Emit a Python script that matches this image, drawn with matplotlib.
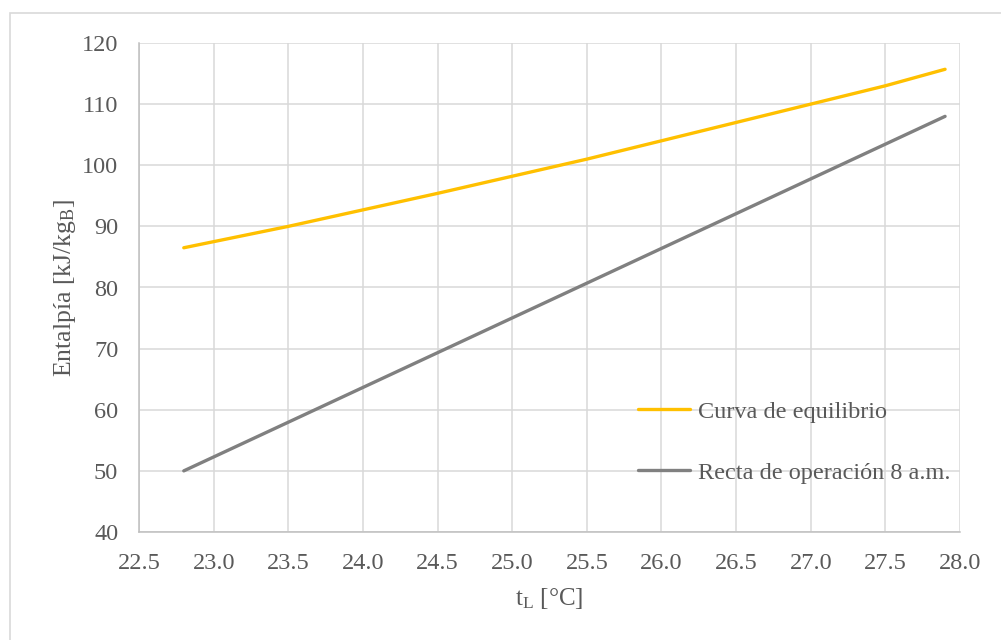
import matplotlib
matplotlib.use("Agg")
import matplotlib.pyplot as plt
from matplotlib.patches import Rectangle

# Curva de equilibrio
t_eq = [22.8, 23.0, 23.5, 24.0, 24.5, 25.0, 25.5, 26.0, 26.5, 27.0, 27.5, 27.9]
h_eq = [86.5, 87.5, 90.0, 92.7, 95.4, 98.2, 101.0, 104.0, 107.0, 110.0, 113.0, 115.7]

# Recta de operación 8 a.m.
t_op = [22.8, 27.9]
h_op = [50.0, 108.0]

x_ticks = [22.5, 23.0, 23.5, 24.0, 24.5, 25.0, 25.5, 26.0, 26.5, 27.0, 27.5, 28.0]
y_ticks = [40, 50, 60, 70, 80, 90, 100, 110, 120]

plt.rcParams["font.family"] = ["Liberation Serif", "DejaVu Serif"]
plt.rcParams["mathtext.fontset"] = "custom"
plt.rcParams["mathtext.rm"] = "Liberation Serif"
plt.rcParams["mathtext.it"] = "Liberation Serif"

text_color = "#595959"
grid_color = "#d9d9d9"

fig = plt.figure(figsize=(10.01, 6.4), dpi=100)
W, H = 1001, 640
ax = fig.add_axes([139 / W, 1 - 532 / H, (960 - 139) / W, (532 - 43) / H])

# outer chart border (only left/top visible in the reference)
fig.patches.append(Rectangle((10 / W, -0.05), 1.1, 1 - 13 / H + 0.05,
                             transform=fig.transFigure, fill=False,
                             edgecolor=grid_color, linewidth=1.2))

ax.plot(t_eq, h_eq, color="#FFC000", lw=2.4, label="Curva de equilibrio",
        solid_capstyle="round")
ax.plot(t_op, h_op, color="#808080", lw=2.4, label="Recta de operación 8 a.m.",
        solid_capstyle="round")

ax.set_xlim(22.5, 28.0)
ax.set_ylim(40, 120)
ax.set_xticks(x_ticks)
ax.set_xticklabels([f"{v:.1f}" for v in x_ticks])
ax.set_yticks(y_ticks)
ax.grid(True, color=grid_color, lw=1.1)
ax.set_axisbelow(True)
for side in ["top", "right"]:
    ax.spines[side].set_visible(False)
for side in ["left", "bottom"]:
    ax.spines[side].set_color("#bfbfbf")
    ax.spines[side].set_linewidth(1.1)
ax.tick_params(length=0, labelsize=17.5, colors=text_color)
ax.tick_params(axis="x", pad=15)
ax.tick_params(axis="y", pad=15)

ax.set_xlabel(r"t$_\mathrm{L}$ [°C]", fontsize=18, color=text_color, labelpad=9)
ax.set_ylabel(r"Entalpía [kJ/kg$_\mathrm{B}$]", fontsize=18.5, color=text_color,
              labelpad=3)

leg = ax.legend(loc="upper left", bbox_to_anchor=(0.608, 0.268), frameon=False,
                fontsize=17.5, labelspacing=1.6, handlelength=2.15,
                handletextpad=0.3, borderaxespad=0, borderpad=0)
for txt in leg.get_texts():
    txt.set_color(text_color)

fig.savefig("out.png", dpi=100)
